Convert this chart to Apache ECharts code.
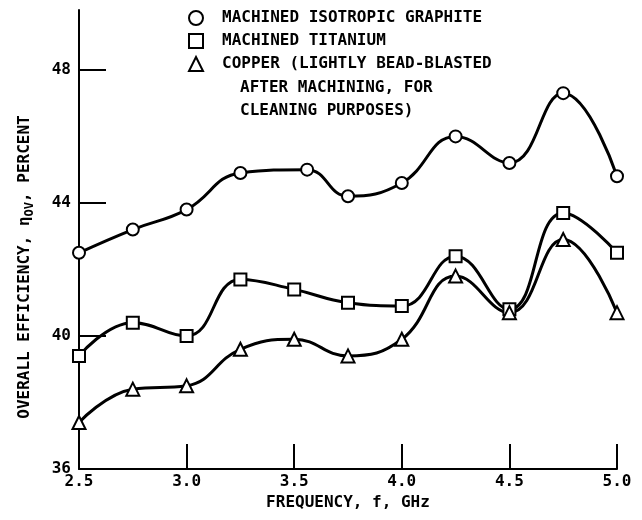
<!DOCTYPE html>
<html>
<head>
<meta charset="utf-8">
<script src="https://cdn.jsdelivr.net/npm/echarts@6/dist/echarts.min.js"></script>
<style>html,body{margin:0;padding:0;background:#fff;}#c{width:642px;height:520px;}</style>
</head>
<body>
<div id="c"></div>
<script>
const graphiteX = [2.5, 2.75, 3.0, 3.25, 3.56, 3.75, 4.0, 4.25, 4.5, 4.75, 5.0];
const graphiteY = [42.5, 43.2, 43.8, 44.9, 45.0, 44.2, 44.6, 46.0, 45.2, 47.3, 44.8];
const freqs = [2.5, 2.75, 3.0, 3.25, 3.5, 3.75, 4.0, 4.25, 4.5, 4.75, 5.0];
const titaniumY = [39.4, 40.4, 40.0, 41.7, 41.4, 41.0, 40.9, 42.4, 40.8, 43.7, 42.5];
const copperY = [37.4, 38.4, 38.5, 39.6, 39.9, 39.4, 39.9, 41.8, 40.7, 42.9, 40.7];
const yTickValues = [40, 44, 48];
const yLabelValues = [36, 40, 44, 48];
const seriesNames = ['MACHINED ISOTROPIC GRAPHITE', 'MACHINED TITANIUM', 'COPPER (LIGHTLY BEAD-BLASTED AFTER MACHINING, FOR CLEANING PURPOSES)'];
const legendLabels = ['MACHINED ISOTROPIC GRAPHITE', 'MACHINED TITANIUM', 'COPPER (LIGHTLY BEAD-BLASTED'];
const legendMore = 'AFTER MACHINING, FOR\nCLEANING PURPOSES)';

const FONT = 'DejaVu Sans Mono';
const chart = echarts.init(document.getElementById('c'));
function pairs(xs, ys) { return xs.map((x, i) => [x, ys[i]]); }
function mkSeries(name, data, symbol, size) {
  return {
    name, type: 'line', data, smooth: 0.45, symbol, symbolSize: size,
    lineStyle: { color: '#000', width: 3 },
    itemStyle: { color: '#fff', borderColor: '#000', borderWidth: 2 },
    animation: false
  };
}
chart.setOption({
  backgroundColor: '#fff',
  animation: false,
  grid: { left: 79, right: 25, top: 10, bottom: 51 },
  legend: {
    orient: 'vertical', left: 188, top: 10, padding: 0, itemGap: 7,
    itemWidth: 14, itemHeight: 14,
    data: [
      { name: seriesNames[0], icon: 'circle' },
      { name: seriesNames[1], icon: 'rect' },
      { name: seriesNames[2], icon: 'triangle' }
    ],
    itemStyle: { color: '#fff', borderColor: '#000', borderWidth: 2 },
    formatter: n => legendLabels[seriesNames.indexOf(n)],
    textStyle: { fontFamily: FONT, fontSize: 16, fontWeight: 'bold', color: '#000', padding: [0, 0, 0, 14] },
    selectedMode: false
  },
  graphic: [
    { type: 'text', left: 240, top: 76,
      style: { text: legendMore, font: 'bold 16px "DejaVu Sans Mono"', fill: '#000', lineHeight: 23 } },
    { type: 'text', x: 25, y: 267, rotation: Math.PI / 2,
      style: {
        text: 'OVERALL EFFICIENCY, η{s|OV}, PERCENT',
        font: 'bold 16px "DejaVu Sans Mono"', fill: '#000', align: 'center', verticalAlign: 'middle',
        rich: { s: { fontFamily: FONT, fontWeight: 'bold', fontSize: 12, padding: [9, 0, 0, 0], fill: '#000' } }
      } }
  ],
  xAxis: {
    type: 'value', min: 2.5, max: 5.0, interval: 0.5,
    name: 'FREQUENCY, f, GHz', nameLocation: 'middle', nameGap: 25,
    nameTextStyle: { fontFamily: FONT, fontSize: 16, fontWeight: 'bold', color: '#000' },
    axisLine: { lineStyle: { color: '#000', width: 2 } },
    axisTick: { inside: true, length: 25, lineStyle: { color: '#000', width: 2 } },
    axisLabel: { fontFamily: FONT, fontSize: 16, fontWeight: 'bold', color: '#000', margin: 5, formatter: v => v.toFixed(1) },
    splitLine: { show: false }
  },
  yAxis: {
    type: 'value', min: 36, max: 49.8, interval: 4,
    axisLine: { show: true, lineStyle: { color: '#000', width: 2 } },
    axisTick: { show: true, inside: true, length: 27, customValues: yTickValues, lineStyle: { color: '#000', width: 2 } },
    axisLabel: { fontFamily: FONT, fontSize: 16, fontWeight: 'bold', color: '#000', margin: 8, customValues: yLabelValues },
    splitLine: { show: false }
  },
  series: [
    mkSeries(seriesNames[0], pairs(graphiteX, graphiteY), 'circle', 12),
    mkSeries(seriesNames[1], pairs(freqs, titaniumY), 'rect', 12),
    mkSeries(seriesNames[2], pairs(freqs, copperY), 'triangle', 13)
  ]
});
</script>
</body>
</html>
